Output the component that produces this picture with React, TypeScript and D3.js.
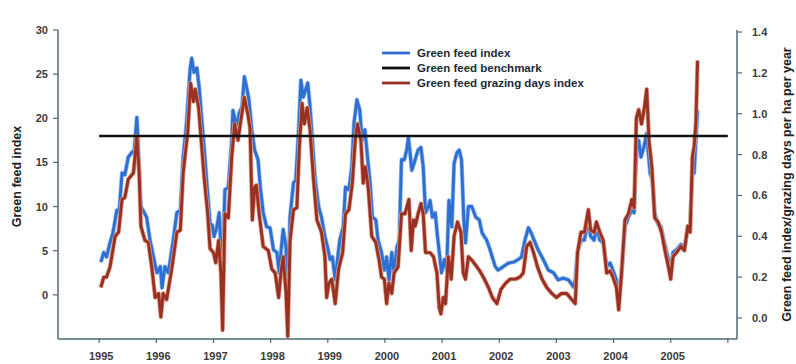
import React from "react";
import * as d3 from "d3";

const WIDTH = 796;
const HEIGHT = 364;
const MARGIN = { top: 30, right: 59, bottom: 25, left: 58 };

// decimal year, green feed index (left axis)
const feedIndex: [number, number][] = [
  [1995.03, 3.7], [1995.08, 4.8], [1995.13, 4.3], [1995.19, 5.9], [1995.24, 7.0], [1995.31, 9.6], [1995.35, 9.4],
  [1995.4, 13.8], [1995.45, 13.6], [1995.51, 15.6], [1995.58, 16.2], [1995.61, 16.1], [1995.66, 20.1], [1995.68, 17.5],
  [1995.73, 10.0], [1995.79, 9.3], [1995.83, 8.8], [1995.89, 6.2], [1995.96, 4.0],
  [1996.01, 2.5], [1996.07, 3.2], [1996.1, 0.8], [1996.15, 3.2], [1996.21, 2.5], [1996.29, 5.9], [1996.36, 9.3],
  [1996.42, 9.6], [1996.47, 15.6], [1996.53, 19.5], [1996.59, 25.5], [1996.62, 26.8], [1996.66, 25.2], [1996.71, 25.7],
  [1996.75, 23.5], [1996.8, 19.5], [1996.84, 16.4], [1996.88, 13.0], [1996.94, 8.1], [1996.98, 7.9],
  [1997.01, 6.6], [1997.06, 7.7], [1997.1, 9.3], [1997.13, 5.4], [1997.16, 2.8], [1997.2, 11.9], [1997.26, 12.2],
  [1997.32, 17.5], [1997.34, 20.9], [1997.41, 19.0], [1997.45, 20.6], [1997.5, 21.3], [1997.54, 24.7], [1997.58, 23.5],
  [1997.62, 22.1], [1997.67, 18.7], [1997.72, 16.4], [1997.78, 15.3], [1997.82, 12.2], [1997.87, 9.3], [1997.93, 7.7],
  [1997.99, 7.6],
  [1998.05, 5.1], [1998.11, 4.8], [1998.15, 2.5], [1998.18, 4.8], [1998.22, 7.4], [1998.27, 5.4], [1998.3, 0.0],
  [1998.34, 8.8], [1998.4, 12.7], [1998.44, 13.0], [1998.49, 18.7], [1998.53, 24.3], [1998.57, 22.4], [1998.65, 24.0],
  [1998.69, 21.3], [1998.73, 17.5], [1998.78, 13.0], [1998.84, 10.0], [1998.89, 8.8], [1998.95, 6.6],
  [1999.0, 5.3], [1999.04, 4.0], [1999.08, 4.3], [1999.13, 1.7], [1999.17, 4.0], [1999.21, 6.2], [1999.27, 7.7],
  [1999.31, 12.2], [1999.37, 11.9], [1999.42, 14.5], [1999.46, 19.5], [1999.51, 22.1], [1999.56, 20.9], [1999.6, 17.5],
  [1999.65, 18.7], [1999.7, 15.3], [1999.74, 12.7], [1999.78, 8.8], [1999.84, 8.5], [1999.88, 6.2], [1999.94, 4.8],
  [1999.99, 2.8],
  [2000.03, 4.3], [2000.07, 1.7], [2000.12, 4.8], [2000.16, 2.5], [2000.21, 5.4], [2000.25, 6.2], [2000.29, 15.3],
  [2000.34, 15.3], [2000.38, 16.4], [2000.41, 17.8], [2000.44, 16.1], [2000.47, 14.1], [2000.51, 14.9], [2000.58, 16.4],
  [2000.63, 16.7], [2000.67, 14.5], [2000.71, 9.3], [2000.76, 10.0], [2000.79, 10.7], [2000.83, 8.8], [2000.88, 9.3],
  [2000.92, 6.6], [2000.96, 4.3], [2000.99, 2.5],
  [2001.04, 4.0], [2001.08, 2.8], [2001.12, 10.7], [2001.17, 7.7], [2001.21, 14.9], [2001.26, 16.1], [2001.3, 16.4],
  [2001.34, 15.3], [2001.38, 8.5], [2001.41, 5.9], [2001.46, 10.0], [2001.52, 10.0], [2001.59, 8.8], [2001.65, 8.5],
  [2001.7, 7.0], [2001.78, 6.2], [2001.84, 5.1], [2001.93, 3.2], [2001.98, 2.8],
  [2002.07, 3.2], [2002.16, 3.6], [2002.25, 3.7], [2002.33, 4.0], [2002.39, 4.3], [2002.45, 6.2], [2002.51, 7.6],
  [2002.56, 7.0], [2002.61, 6.2], [2002.68, 5.1], [2002.77, 4.0], [2002.86, 2.8], [2002.95, 2.5],
  [2003.03, 1.7], [2003.12, 1.9], [2003.21, 1.7], [2003.3, 0.9], [2003.33, 1.7], [2003.37, 4.8], [2003.43, 6.2],
  [2003.49, 6.2], [2003.56, 8.5], [2003.6, 6.6], [2003.66, 6.2], [2003.7, 7.7], [2003.76, 6.2], [2003.82, 5.9],
  [2003.88, 3.2], [2003.94, 3.6], [2003.99, 2.8],
  [2004.05, 1.7], [2004.09, -0.9], [2004.14, 2.5], [2004.2, 7.7], [2004.26, 8.8], [2004.32, 9.6], [2004.36, 9.3],
  [2004.4, 16.1], [2004.44, 17.5], [2004.48, 15.6], [2004.53, 16.7], [2004.58, 18.3], [2004.64, 13.8], [2004.68, 13.0],
  [2004.72, 9.3], [2004.77, 8.1], [2004.83, 7.7], [2004.89, 5.9], [2004.96, 4.0],
  [2005.0, 2.5], [2005.04, 4.8], [2005.1, 5.1], [2005.18, 5.7], [2005.24, 5.3], [2005.3, 7.7], [2005.34, 7.7],
  [2005.38, 13.8], [2005.41, 13.8], [2005.44, 17.5], [2005.47, 20.9],
];

// decimal year, grazing days per ha per year (right axis)
const grazingIndex: [number, number][] = [
  [1995.03, 0.15], [1995.08, 0.2], [1995.13, 0.2], [1995.19, 0.25], [1995.28, 0.4], [1995.34, 0.42], [1995.4, 0.58],
  [1995.45, 0.59], [1995.51, 0.68], [1995.6, 0.71], [1995.66, 0.89], [1995.7, 0.71], [1995.73, 0.45], [1995.8, 0.38],
  [1995.86, 0.37], [1995.92, 0.25], [1995.98, 0.1],
  [1996.04, 0.12], [1996.08, 0.005], [1996.12, 0.12], [1996.18, 0.09], [1996.27, 0.24], [1996.36, 0.42], [1996.42, 0.43],
  [1996.47, 0.71], [1996.55, 0.91], [1996.6, 1.15], [1996.65, 1.06], [1996.68, 1.12], [1996.74, 1.03], [1996.8, 0.82],
  [1996.84, 0.68], [1996.9, 0.51], [1996.94, 0.34],
  [1997.0, 0.32], [1997.04, 0.27], [1997.09, 0.38], [1997.13, 0.22], [1997.16, -0.06], [1997.2, 0.51], [1997.26, 0.49],
  [1997.32, 0.79], [1997.37, 0.95], [1997.43, 0.87], [1997.47, 0.95], [1997.54, 1.08], [1997.6, 1.0], [1997.64, 0.93],
  [1997.68, 0.48], [1997.72, 0.64], [1997.75, 0.65], [1997.8, 0.51], [1997.87, 0.35], [1997.96, 0.33],
  [1998.02, 0.24], [1998.08, 0.22], [1998.14, 0.1], [1998.18, 0.22], [1998.22, 0.3], [1998.27, 0.12], [1998.3, -0.09],
  [1998.34, 0.38], [1998.4, 0.53], [1998.46, 0.54], [1998.5, 0.82], [1998.55, 1.05], [1998.59, 0.95], [1998.64, 1.03],
  [1998.69, 0.92], [1998.75, 0.68], [1998.81, 0.48], [1998.89, 0.42], [1998.95, 0.3], [1998.98, 0.1],
  [1999.02, 0.17], [1999.07, 0.19], [1999.13, 0.07], [1999.19, 0.24], [1999.26, 0.32], [1999.31, 0.51], [1999.37, 0.53],
  [1999.43, 0.66], [1999.48, 0.87], [1999.52, 0.95], [1999.58, 0.87], [1999.62, 0.66], [1999.66, 0.74], [1999.71, 0.63],
  [1999.77, 0.4], [1999.84, 0.37], [1999.9, 0.28], [1999.94, 0.2], [1999.99, 0.19],
  [2000.03, 0.07], [2000.07, 0.17], [2000.12, 0.12], [2000.16, 0.22], [2000.23, 0.25], [2000.29, 0.51], [2000.35, 0.51],
  [2000.42, 0.58], [2000.46, 0.33], [2000.5, 0.48], [2000.53, 0.45], [2000.58, 0.51], [2000.63, 0.56], [2000.67, 0.51],
  [2000.71, 0.32], [2000.79, 0.32], [2000.85, 0.3], [2000.91, 0.22], [2000.95, 0.05], [2000.98, 0.02],
  [2001.02, 0.1], [2001.06, 0.07], [2001.11, 0.3], [2001.16, 0.19], [2001.21, 0.4], [2001.27, 0.47], [2001.33, 0.42],
  [2001.37, 0.22], [2001.41, 0.19], [2001.46, 0.3], [2001.53, 0.28], [2001.61, 0.25], [2001.66, 0.23], [2001.74, 0.19],
  [2001.81, 0.15], [2001.88, 0.1], [2001.96, 0.07],
  [2002.03, 0.14], [2002.11, 0.17], [2002.19, 0.19], [2002.28, 0.19], [2002.36, 0.2], [2002.42, 0.22], [2002.48, 0.35],
  [2002.54, 0.37], [2002.6, 0.32], [2002.67, 0.25], [2002.75, 0.19], [2002.83, 0.15], [2002.92, 0.12],
  [2003.0, 0.1], [2003.09, 0.12], [2003.18, 0.12], [2003.27, 0.09], [2003.33, 0.07], [2003.37, 0.32], [2003.43, 0.42],
  [2003.49, 0.42], [2003.56, 0.53], [2003.6, 0.43], [2003.66, 0.42], [2003.7, 0.47], [2003.76, 0.42], [2003.82, 0.38],
  [2003.88, 0.22], [2003.94, 0.23], [2003.99, 0.2],
  [2004.05, 0.15], [2004.09, 0.04], [2004.14, 0.22], [2004.2, 0.48], [2004.26, 0.51], [2004.32, 0.58], [2004.36, 0.54],
  [2004.4, 0.98], [2004.44, 1.02], [2004.49, 0.95], [2004.54, 1.03], [2004.58, 1.12], [2004.62, 0.87], [2004.67, 0.74],
  [2004.72, 0.49], [2004.78, 0.47], [2004.84, 0.42], [2004.9, 0.33], [2004.96, 0.25],
  [2005.0, 0.19], [2005.04, 0.3], [2005.1, 0.32], [2005.18, 0.35], [2005.24, 0.33], [2005.3, 0.45], [2005.34, 0.42],
  [2005.38, 0.79], [2005.41, 0.84], [2005.44, 0.95], [2005.47, 1.26],
];

const BENCHMARK = 18;
const BENCHMARK_SPAN = [1995, 2006];

const yearTicks = d3.range(1995, 2007);
const yearLabels = d3.range(1995, 2006);
const leftTicks = [0, 5, 10, 15, 20, 25, 30];
const rightTicks = [0, 0.2, 0.4, 0.6, 0.8, 1.0, 1.2, 1.4];

const legendItems = [
  { label: "Green feed index", color: "#2d6fd2" },
  { label: "Green feed benchmark", color: "#111111" },
  { label: "Green feed grazing days index", color: "#9a3024" },
];

const FONT = "'Liberation Sans', Arial, sans-serif";
const AXIS = "#4d6b78";
const TEXT = "#3a3a3a";

export default function App() {
  const x0 = MARGIN.left;
  const x1 = WIDTH - MARGIN.right;
  const yTop = MARGIN.top;
  const yBot = HEIGHT - MARGIN.bottom;

  const xScale = d3.scaleLinear().domain([1994.28, 2006.16]).range([x0, x1]);
  const yLeft = d3.scaleLinear().domain([-5, 30]).range([yBot, yTop]);
  const yRight = d3.scaleLinear().domain([-0.103, 1.41]).range([yBot, yTop]);

  const blueLine = d3
    .line<[number, number]>()
    .x((d) => xScale(d[0]))
    .y((d) => yLeft(d[1]));
  const redLine = d3
    .line<[number, number]>()
    .x((d) => xScale(d[0]))
    .y((d) => yRight(d[1]));

  return (
    <svg
      width={WIDTH}
      height={HEIGHT}
      style={{ position: "absolute", left: 0, top: 0, background: "#fff" }}
      fontFamily={FONT}
    >
      {/* series */}
      <path d={blueLine(feedIndex) ?? ""} fill="none" stroke="#9cbfee" strokeWidth={4.4} strokeLinejoin="round" />
      <path d={blueLine(feedIndex) ?? ""} fill="none" stroke="#2d6fd2" strokeWidth={2.9} strokeLinejoin="round" />
      <path d={redLine(grazingIndex) ?? ""} fill="none" stroke="#dea088" strokeWidth={4.4} strokeLinejoin="round" />
      <path d={redLine(grazingIndex) ?? ""} fill="none" stroke="#9a3024" strokeWidth={2.9} strokeLinejoin="round" />
      <line
        x1={xScale(BENCHMARK_SPAN[0])}
        x2={xScale(BENCHMARK_SPAN[1])}
        y1={yLeft(BENCHMARK)}
        y2={yLeft(BENCHMARK)}
        stroke="#111"
        strokeWidth={2.4}
      />

      {/* axes */}
      <line x1={x0} x2={x0} y1={yTop} y2={yBot} stroke={AXIS} strokeWidth={1.5} />
      <line x1={x1} x2={x1} y1={yTop} y2={yBot} stroke={AXIS} strokeWidth={1.5} />
      <line x1={x0} x2={x1} y1={yBot} y2={yBot} stroke={AXIS} strokeWidth={1.5} />

      {leftTicks.map((t) => (
        <g key={`l${t}`}>
          <line x1={x0 - 5} x2={x0} y1={yLeft(t)} y2={yLeft(t)} stroke={AXIS} strokeWidth={1.2} />
          <text x={x0 - 10} y={yLeft(t)} dy="0.36em" textAnchor="end" fontSize={11} fontWeight="bold" fill={TEXT}>
            {t}
          </text>
        </g>
      ))}

      {rightTicks.map((t) => (
        <g key={`r${t}`}>
          <line x1={x1} x2={x1 + 5} y1={yRight(t)} y2={yRight(t)} stroke={AXIS} strokeWidth={1.2} />
          <text x={x1 + 15} y={yRight(t)} dy="0.36em" textAnchor="start" fontSize={11} fontWeight="bold" fill={TEXT}>
            {t.toFixed(1)}
          </text>
        </g>
      ))}

      {yearTicks.map((t) => (
        <line key={`x${t}`} x1={xScale(t)} x2={xScale(t)} y1={yBot - 1} y2={yBot + 4} stroke={AXIS} strokeWidth={1.2} />
      ))}
      {yearLabels.map((t) => (
        <text key={`xl${t}`} x={xScale(t) + 2} y={yBot + 21} textAnchor="middle" fontSize={11} fontWeight="bold" fill={TEXT}>
          {t}
        </text>
      ))}

      {/* axis titles */}
      <text
        transform={`translate(21, ${(yTop + yBot) / 2 - 8}) rotate(-90)`}
        textAnchor="middle"
        fontSize={12.5}
        fontWeight="bold"
        fill="#222"
      >
        Green feed index
      </text>
      <text
        transform={`translate(791, ${(yTop + yBot) / 2}) rotate(-90)`}
        textAnchor="middle"
        fontSize={12.5}
        fontWeight="bold"
        fill="#222"
      >
        Green feed index/grazing days per ha per year
      </text>

      {/* legend */}
      {legendItems.map((item, i) => (
        <g key={item.label} transform={`translate(382, ${53 + i * 15})`}>
          <line x1={0} x2={28} y1={0} y2={0} stroke={item.color} strokeWidth={2.8} />
          <text x={35} y={0} dy="0.36em" fontSize={11.5} fontWeight="bold" fill="#1c2a36">
            {item.label}
          </text>
        </g>
      ))}
    </svg>
  );
}
